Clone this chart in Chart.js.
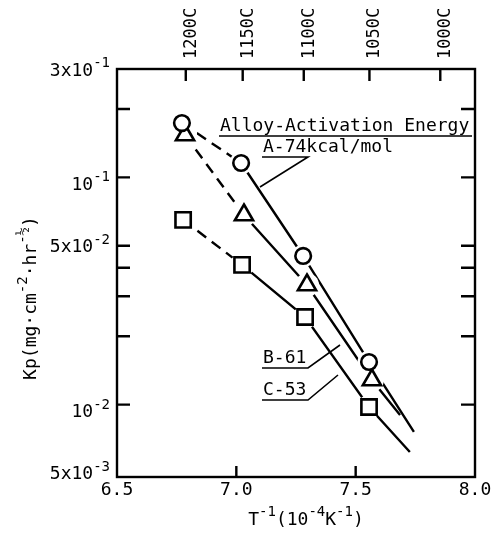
<!DOCTYPE html>
<html>
<head>
<meta charset="utf-8">
<script src="https://cdn.jsdelivr.net/npm/chart.js@4"></script>
<style>
  html, body { margin: 0; padding: 0; background: #fff; }
  #wrap { width: 494px; height: 534px; }
</style>
</head>
<body>
<div id="wrap"><canvas id="myChart" width="494" height="534"></canvas></div>
<script>
// data (x = 1/T in 1e-4 K^-1, y = Kp)
var alloyA_x = [6.772, 7.020, 7.280, 7.556];
var alloyA_y = [0.1735, 0.1157, 0.0451, 0.0154];
var alloyB_x = [6.785, 7.032, 7.296, 7.568];
var alloyB_y = [0.1537, 0.0683, 0.0336, 0.01283];
var alloyC_x = [6.777, 7.024, 7.288, 7.556];
var alloyC_y = [0.0650, 0.0412, 0.0243, 0.00976];
// where the fitted lines run out past the last point
var lineEnd_A = [7.744, 0.00758];
var lineEnd_B = [7.686, 0.0090];
var lineEnd_C = [7.727, 0.00618];

var xTicks = [6.5, 7.0, 7.5, 8.0];
var xTickLabels = ['6.5', '7.0', '7.5', '8.0'];
var xInnerTicks = [7.0, 7.5];
var yLabelValues = [0.3, 0.1, 0.05, 0.01, 0.005];
var yLabelBase = ['3x10', '10', '5x10', '10', '5x10'];
var yLabelExp = ['-1', '-1', '-2', '-2', '-3'];
var yMinorTicks = [0.2, 0.1, 0.05, 0.04, 0.03, 0.02, 0.01];
var tempTicks = [1200, 1150, 1100, 1050, 1000];

var MONO = '"DejaVu Sans Mono", "Liberation Mono", monospace';

function pts(xs, ys) {
    return xs.map(function (x, i) { return { x: x, y: ys[i] }; });
}

function lineSet(xs, ys, end) {
    var d = pts(xs, ys);
    d.push({ x: end[0], y: end[1] });
    return {
        type: 'scatter', data: d, showLine: true, order: 3,
        borderColor: '#000', borderWidth: 2.4, pointRadius: 0,
        segment: {
            borderDash: function (ctx) { return ctx.p0DataIndex === 0 ? [11, 7] : undefined; }
        }
    };
}

function markerSet(xs, ys, style, r) {
    return {
        type: 'scatter', data: pts(xs, ys), order: 1,
        pointStyle: style, pointRadius: r, pointHoverRadius: r,
        pointBackgroundColor: '#fff', pointBorderColor: '#000', pointBorderWidth: 2.6
    };
}

function haloSet(xs, ys, r) {
    return {
        type: 'scatter', data: pts(xs, ys), order: 2,
        pointRadius: r, pointHoverRadius: r,
        pointBackgroundColor: '#fff', pointBorderColor: '#fff', pointBorderWidth: 0
    };
}

// draws the frame, inward ticks and all the text
var decorPlugin = {
    id: 'decor',
    afterDraw: function (chart) {
        var c = chart.ctx, a = chart.chartArea;
        var sx = chart.scales.x, sy = chart.scales.y;
        c.save();
        c.strokeStyle = '#000';
        c.fillStyle = '#000';
        c.lineWidth = 2.4;
        c.strokeRect(a.left, a.top, a.right - a.left, a.bottom - a.top);

        c.beginPath();
        yMinorTicks.forEach(function (v) {
            var y = sy.getPixelForValue(v);
            c.moveTo(a.left, y); c.lineTo(a.left + 13, y);
            c.moveTo(a.right, y); c.lineTo(a.right - 14, y);
        });
        xInnerTicks.forEach(function (v) {
            var x = sx.getPixelForValue(v);
            c.moveTo(x, a.bottom); c.lineTo(x, a.bottom - 11);
        });
        tempTicks.forEach(function (t) {
            var x = sx.getPixelForValue(1e4 / (t + 273.15));
            c.moveTo(x, a.top); c.lineTo(x, a.top + 12);
        });
        c.stroke();

        // y tick labels with exponents
        c.textBaseline = 'alphabetic';
        yLabelValues.forEach(function (v, i) {
            var y = sy.getPixelForValue(v);
            if (yLabelBase[i] === '10') y += 6;
            c.font = '14px ' + MONO;
            var ew = c.measureText(yLabelExp[i]).width;
            c.textAlign = 'left';
            c.fillText(yLabelExp[i], 110 - ew, y - 2);
            c.font = '18px ' + MONO;
            c.textAlign = 'right';
            c.fillText(yLabelBase[i], 110 - ew, y + 6.5);
        });

        // x tick labels
        c.font = '18px ' + MONO;
        c.textAlign = 'center';
        xTicks.forEach(function (v, i) {
            c.fillText(xTickLabels[i], sx.getPixelForValue(v), 495);
        });

        // top temperature labels, rotated
        c.font = '17px ' + MONO;
        tempTicks.forEach(function (t) {
            var x = sx.getPixelForValue(1e4 / (t + 273.15)) + 4;
            c.save();
            c.translate(x + 6, 59);
            c.rotate(-Math.PI / 2);
            c.textAlign = 'left';
            c.fillText(t + 'C', 0, 0);
            c.restore();
        });

        // pieces of text with superscripts: [text, isSup]
        function runLength(parts) {
            var w = 0;
            parts.forEach(function (p) {
                c.font = (p[1] ? '14px ' : '18px ') + MONO;
                w += c.measureText(p[0]).width;
            });
            return w;
        }
        function drawRun(parts, x, y) {
            c.textAlign = 'left';
            parts.forEach(function (p) {
                c.font = (p[1] ? '14px ' : '18px ') + MONO;
                c.fillText(p[0], x, p[1] ? y - 9 : y);
                x += c.measureText(p[0]).width;
            });
        }

        var xTitle = [['T', 0], ['-1', 1], ['(10', 0], ['-4', 1], ['K', 0], ['-1', 1], [')', 0]];
        drawRun(xTitle, 306 - runLength(xTitle) / 2, 525);

        var yTitle = [['Kp(mg\u00b7cm', 0], ['-2', 1], ['\u00b7hr', 0], ['-\u00bd', 1], [')', 0]];
        c.save();
        c.translate(36, 298);
        c.rotate(-Math.PI / 2);
        drawRun(yTitle, -runLength(yTitle) / 2, 0);
        c.restore();

        // annotations
        c.font = '18px ' + MONO;
        c.textAlign = 'left';
        c.fillText('Alloy-Activation Energy', 220, 131);
        c.fillText('A-74kcal/mol', 263, 152);
        c.fillText('B-61', 263, 363);
        c.fillText('C-53', 263, 395);
        c.lineWidth = 1.6;
        c.beginPath();
        c.moveTo(219, 136); c.lineTo(472, 136);
        c.moveTo(262, 157); c.lineTo(308, 157); c.lineTo(260, 187);
        c.moveTo(262, 368); c.lineTo(308, 368); c.lineTo(340, 345);
        c.moveTo(262, 400); c.lineTo(308, 400); c.lineTo(338, 375);
        c.stroke();
        c.restore();
    }
};

new Chart(document.getElementById('myChart'), {
    type: 'scatter',
    data: {
        datasets: [
            lineSet(alloyA_x, alloyA_y, lineEnd_A),
            lineSet(alloyB_x, alloyB_y, lineEnd_B),
            lineSet(alloyC_x, alloyC_y, lineEnd_C),
            haloSet(alloyA_x, alloyA_y, 11.5),
            haloSet(alloyB_x, alloyB_y, 12),
            haloSet(alloyC_x, alloyC_y, 12),
            markerSet(alloyA_x, alloyA_y, 'circle', 7.8),
            markerSet(alloyB_x, alloyB_y, 'triangle', 10.5),
            markerSet(alloyC_x, alloyC_y, 'rect', 10.8)
        ]
    },
    options: {
        responsive: false,
        animation: false,
        events: [],
        layout: { padding: { left: 117, right: 19, top: 69, bottom: 57 } },
        plugins: { legend: { display: false }, tooltip: { enabled: false } },
        scales: {
            x: { type: 'linear', min: 6.5, max: 8.0, display: false },
            y: { type: 'logarithmic', min: 0.0048, max: 0.3, display: false }
        }
    },
    plugins: [decorPlugin]
});
</script>
</body>
</html>
